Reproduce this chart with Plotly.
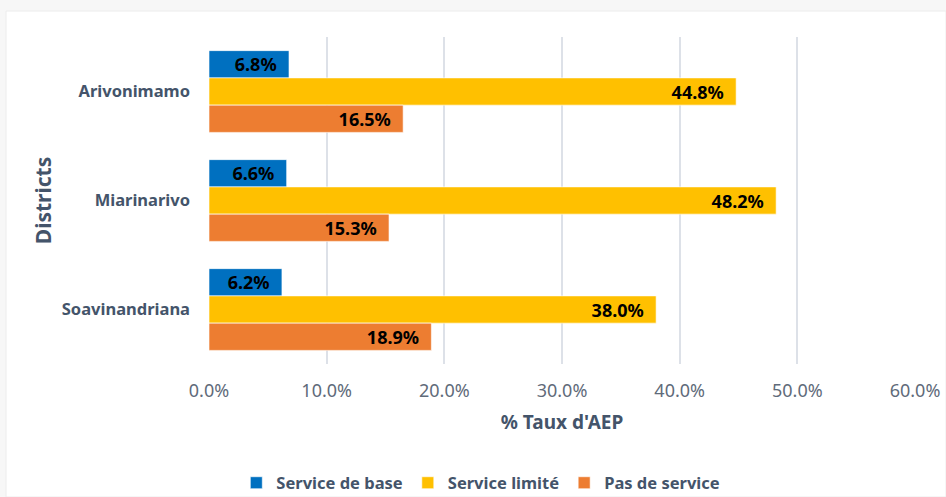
import plotly.graph_objects as go

districts = ["Arivonimamo", "Miarinarivo", "Soavinandriana"]
service_base = [6.8, 6.6, 6.2]
service_limite = [44.8, 48.2, 38.0]
pas_service = [16.5, 15.3, 18.9]
x_ticks = [0, 10, 20, 30, 40, 50, 60]
x_tick_labels = ["0.0%", "10.0%", "20.0%", "30.0%", "40.0%", "50.0%", "60.0%"]

FONT = "Noto Sans, sans-serif"
series = [
    ("Service de base", service_base, "#0070c0"),
    ("Service limité", service_limite, "#ffc000"),
    ("Pas de service", pas_service, "#ed7d31"),
]

fig = go.Figure()
for name, vals, col in series:
    fig.add_trace(go.Bar(
        y=districts, x=vals, name=name, orientation="h",
        marker=dict(color=col, line=dict(color="rgba(255,255,255,0.6)", width=1)),
        text=[f"{v:.1f}%\u00a0\u00a0" for v in vals],
        textposition="inside", insidetextanchor="end",
        textfont=dict(family=FONT, size=18, color="black", weight="bold"),
        constraintext="none", hoverinfo="x+y+name",
    ))

W, H = 946, 497
L, R, T, B = 209, 31, 37, 133
fig.update_layout(
    width=W, height=H,
    margin=dict(l=L, r=R, t=T, b=B, autoexpand=False),
    barmode="group", bargap=0.25, bargroupgap=0,
    paper_bgcolor="#f7f7f7", plot_bgcolor="white",
    font=dict(family=FONT),
    showlegend=True,
    legend=dict(orientation="h", x=0.385, xanchor="center",
                y=-(483 - 364) / 327, yanchor="middle",
                font=dict(family=FONT, size=16.5, color="#44546a", weight="bold"),
                itemwidth=30, tracegroupgap=0,
                bgcolor="rgba(0,0,0,0)"),
    xaxis=dict(range=[0, 60], tickvals=x_ticks, ticktext=x_tick_labels,
               showgrid=True, gridcolor="#dde1e8", gridwidth=1.5,
               zeroline=False, showline=False, automargin=False,
               tickfont=dict(family=FONT, size=18, color="#5f6b7a"),
               ticklabelstandoff=14,
               title=dict(text="% Taux d'AEP", standoff=14,
                          font=dict(family=FONT, size=19, color="#44546a", weight="bold"))),
    yaxis=dict(autorange="reversed", showgrid=False, showline=False, automargin=False,
               tickfont=dict(family=FONT, size=16.5, color="#44546a", weight="bold"),
               ticklabelstandoff=18,
               title=dict(text="Districts", standoff=4,
                          font=dict(family=FONT, size=21, color="#44546a", weight="bold"))),
    shapes=[dict(type="rect", xref="paper", yref="paper",
                 x0=-(L - 6) / (W - L - R), x1=1 + (R) / (W - L - R),
                 y0=-(B) / (H - T - B), y1=1 + (T - 11) / (H - T - B),
                 fillcolor="white", line=dict(color="#ececec", width=1), layer="below")],
)

fig.write_html("out.html", config={"displayModeBar": False},
               post_script="document.body.style.margin='0';document.body.style.overflow='hidden';")
